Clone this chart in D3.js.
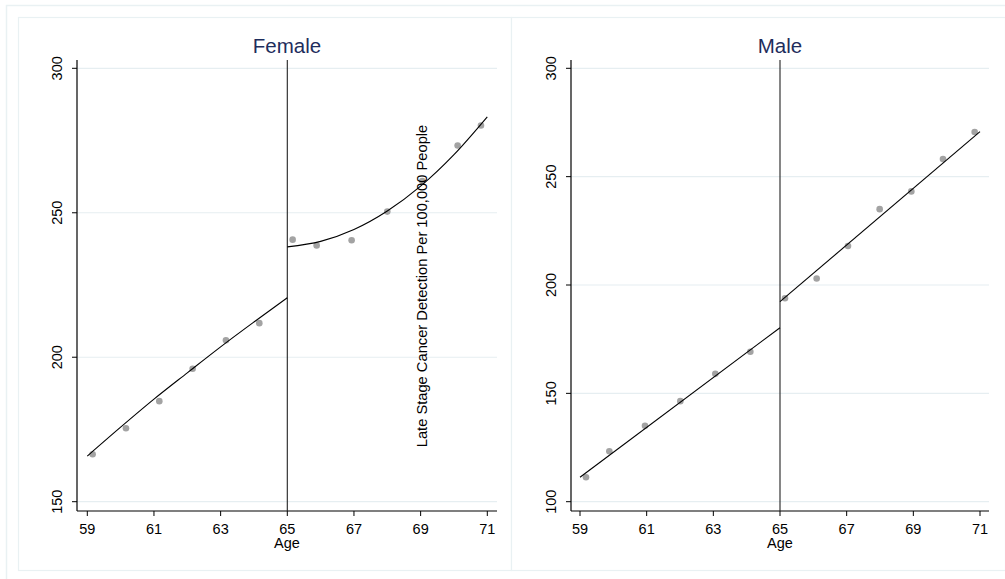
<!DOCTYPE html>
<html><head><meta charset="utf-8">
<script src="https://cdn.jsdelivr.net/npm/d3@7"></script>
<style>
html,body{margin:0;padding:0;background:#fff;}
svg{display:block;font-family:"Liberation Sans",Arial,sans-serif;}
</style></head>
<body><svg id="c" width="1005" height="579"></svg>
<script>
// ---- data ----
const panels = ["Female", "Male"];
const xTicks = [59, 61, 63, 65, 67, 69, 71];
const yTicksFemale = [150, 200, 250, 300];
const yTicksMale = [100, 150, 200, 250, 300];
const cutoffAge = 65;
const yTitle = "Late Stage Cancer Detection Per 100,000 People";
const xTitle = "Age";

// observed points
const femaleAge = [59.16, 60.16, 61.16, 62.16, 63.16, 64.16, 65.16, 65.88, 66.93, 68.0, 69.05, 70.11, 70.81];
const femaleRate = [166.4, 175.4, 184.8, 196.0, 205.9, 211.8, 240.7, 238.7, 240.5, 250.4, 261.0, 273.3, 280.2];
const maleAge = [59.18, 59.88, 60.95, 62.01, 63.06, 64.11, 65.15, 66.10, 67.04, 67.99, 68.94, 69.89, 70.84];
const maleRate = [111.3, 123.3, 135.0, 146.4, 159.0, 169.2, 193.9, 203.0, 218.0, 235.0, 243.2, 258.1, 270.6];

// fitted lines
const femaleFitBeforeAge = [59, 60, 61, 62, 63, 64, 65];
const femaleFitBefore = [165.8, 175.8, 185.5, 194.6, 203.6, 212.2, 220.6];
const femaleFitAfterAge = [65, 66, 67, 68, 69, 70, 71];
const femaleFitAfter = [238.2, 240.1, 244.2, 250.6, 259.2, 270.1, 283.2];
const maleFitBeforeAge = [59, 65];
const maleFitBefore = [111.3, 180.3];
const maleFitAfterAge = [65, 71];
const maleFitAfter = [192.3, 270.8];

// ---- layout ----
const svg = d3.select("#c");
const frameCol = "#e9f1f3";
const gridCol = "#e6eef1";
const titleCol = "#1e2d5c";

svg.append("rect").attr("x",6.5).attr("y",5.5).attr("width",1010).attr("height",590)
  .attr("fill","none").attr("stroke",frameCol).attr("stroke-width",1.5);

const cfg = [
  {name: panels[0], px0: 18, px1: 511, ax0: 77, ax1: 497, xr: [87.3, 487.3],
   yd: [150, 300], yTicks: yTicksFemale,
   age: femaleAge, rate: femaleRate,
   fits: [[femaleFitBeforeAge, femaleFitBefore], [femaleFitAfterAge, femaleFitAfter]]},
  {name: panels[1], px0: 511, px1: 1005, ax0: 571, ax1: 989, xr: [580, 980],
   yd: [100, 300], yTicks: yTicksMale,
   age: maleAge, rate: maleRate,
   fits: [[maleFitBeforeAge, maleFitBefore], [maleFitAfterAge, maleFitAfter]]}
];
const yTop = 60, yBot = 511;

cfg.forEach(p => {
  const g = svg.append("g");
  g.append("rect").attr("x",p.px0+0.5).attr("y",17.5).attr("width",p.px1-p.px0).attr("height",553)
    .attr("fill","#fff").attr("stroke",frameCol).attr("stroke-width",1.2);

  const x = d3.scaleLinear().domain([59,71]).range(p.xr);
  const y = d3.scaleLinear().domain(p.yd).range([501.7, 68.3]);

  // gridlines
  g.selectAll(".grid").data(p.yTicks).join("line")
    .attr("x1",p.ax0).attr("x2",p.ax1)
    .attr("y1",d=>y(d)).attr("y2",d=>y(d))
    .attr("stroke",gridCol).attr("stroke-width",1.2);

  // y axis
  g.append("line").attr("x1",p.ax0).attr("x2",p.ax0).attr("y1",yTop).attr("y2",yBot)
    .attr("stroke","#000").attr("stroke-width",1.2);
  g.selectAll(".yt").data(p.yTicks).join("line")
    .attr("x1",p.ax0-5).attr("x2",p.ax0).attr("y1",d=>y(d)).attr("y2",d=>y(d))
    .attr("stroke","#000").attr("stroke-width",1);
  g.selectAll(".yl").data(p.yTicks).join("text")
    .attr("transform",d=>`translate(${p.ax0-15},${y(d)}) rotate(-90)`)
    .attr("text-anchor","middle").attr("font-size","14.5px").attr("fill","#000")
    .text(d=>d);

  // x axis
  g.append("line").attr("x1",p.ax0).attr("x2",p.ax1).attr("y1",yBot).attr("y2",yBot)
    .attr("stroke","#000").attr("stroke-width",1.2);
  g.selectAll(".xt").data(xTicks).join("line")
    .attr("x1",d=>x(d)).attr("x2",d=>x(d)).attr("y1",yBot).attr("y2",yBot+5)
    .attr("stroke","#000").attr("stroke-width",1);
  g.selectAll(".xl").data(xTicks).join("text")
    .attr("x",d=>x(d)).attr("y",533.5)
    .attr("text-anchor","middle").attr("font-size","14.5px").attr("fill","#000")
    .text(d=>d);
  g.append("text").attr("x",(p.ax0+p.ax1)/2).attr("y",548)
    .attr("text-anchor","middle").attr("font-size","14.5px").attr("fill","#000").text(xTitle);

  // title
  g.append("text").attr("x",(p.ax0+p.ax1)/2).attr("y",53)
    .attr("text-anchor","middle").attr("font-size","20.5px").attr("fill",titleCol).text(p.name);

  // cutoff line
  g.append("line").attr("x1",x(cutoffAge)).attr("x2",x(cutoffAge)).attr("y1",yTop).attr("y2",yBot)
    .attr("stroke","#222").attr("stroke-width",1.1);

  // points
  g.selectAll(".pt").data(p.age.map((a,i)=>[a,p.rate[i]])).join("circle")
    .attr("cx",d=>x(d[0])).attr("cy",d=>y(d[1])).attr("r",3.3)
    .attr("fill","#a3a3a3");

  // fits
  const line = d3.line().x(d=>x(d[0])).y(d=>y(d[1])).curve(d3.curveMonotoneX);
  p.fits.forEach(f => {
    const pts = f[0].map((a,i)=>[a,f[1][i]]);
    g.append("path").attr("d",line(pts)).attr("fill","none")
      .attr("stroke","#000").attr("stroke-width",1.1);
  });
});

// shared y title (placed as in the original)
svg.append("text").attr("transform",`translate(427,286) rotate(-90)`)
  .attr("text-anchor","middle").attr("font-size","14.7px").attr("fill","#000").text(yTitle);
</script></body></html>
